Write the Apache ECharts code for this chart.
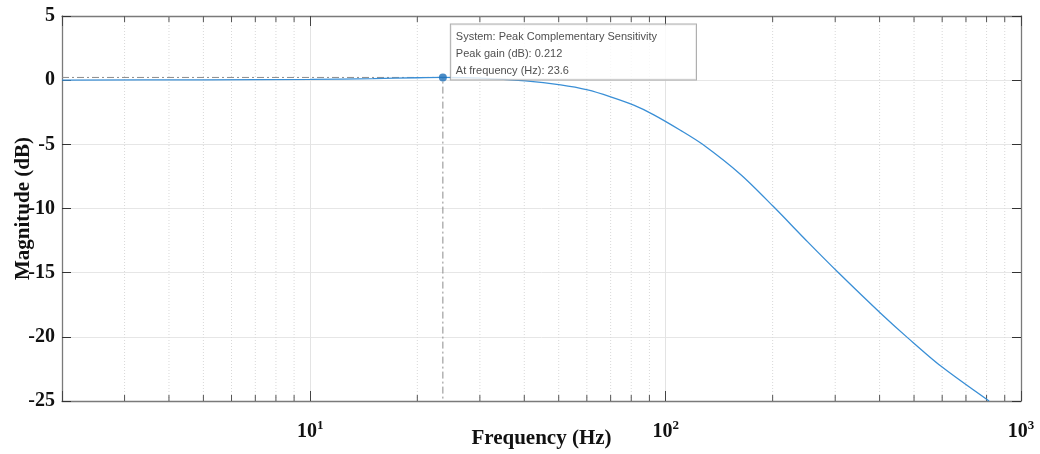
<!DOCTYPE html>
<html><head><meta charset="utf-8">
<script src="https://cdn.jsdelivr.net/npm/echarts@6/dist/echarts.min.js"></script>
<style>html,body{margin:0;padding:0;background:#fff}#c{width:1040px;height:454px}</style>
</head><body><div id="c"></div>
<script>
// ---- data ----
const freqHz = [2, 5, 10, 15, 20, 23.6, 30, 40.3, 50.6, 60.3, 70, 81.3, 92.6, 110, 127, 162.5, 201, 251, 305, 404, 481, 596, 813];
const magDb  = [0.01, 0.03, 0.06, 0.12, 0.19, 0.212, 0.16, -0.06, -0.37, -0.76, -1.3, -1.95, -2.7, -3.9, -5.0, -7.35, -9.85, -12.6, -14.95, -18.2, -20.1, -22.3, -25.0];
const peakFreq = 23.6;
const peakGain = 0.212;
const annotationLines = ['System: Peak Complementary Sensitivity', 'Peak gain (dB): 0.212', 'At frequency (Hz): 23.6'];
const xMin = 2, xMax = 1000;
const yMin = -25, yMax = 5, yStep = 5;
const decadeStarts = [1, 10, 100];
const minorMult = [2, 3, 4, 5, 6, 7, 8, 9];
const xTitle = 'Frequency (Hz)';
const yTitle = 'Magnitude (dB)';

// ---- build ----
const minorFreqs = [];
decadeStarts.forEach(d => minorMult.forEach(m => { const f = d * m; if (f > xMin && f < xMax) minorFreqs.push(f); }));

const serif = '"Liberation Serif","Times New Roman",serif';
const sans = '"Liberation Sans",Arial,sans-serif';
const chart = echarts.init(document.getElementById('c'), null, {renderer: 'canvas'});

const axisLineStyle = {color: '#7a7a7a', width: 1.3};
chart.setOption({
  animation: false,
  backgroundColor: '#fff',
  grid: {left: 62, right: 19, top: 16, bottom: 53, containLabel: false, outerBoundsMode: 'none'},
  xAxis: [{
    type: 'log', logBase: 10, min: xMin, max: xMax,
    name: xTitle, nameLocation: 'middle', nameGap: 27, nameMoveOverlap: false,
    nameTextStyle: {fontFamily: serif, fontWeight: 'bold', fontSize: 21, color: '#111'},
    axisLine: {show: true, onZero: false, lineStyle: axisLineStyle},
    axisTick: {show: true, inside: true, length: 10, lineStyle: {color: '#444'}},
    axisLabel: {
      margin: 18,
      formatter: v => { const e = Math.log10(v); return Math.abs(e - Math.round(e)) < 1e-6 ? '{b|10}{s|' + Math.round(e) + '}' : ''; },
      rich: {
        b: {fontFamily: serif, fontWeight: 'bold', fontSize: 20, color: '#111'},
        s: {fontFamily: serif, fontWeight: 'bold', fontSize: 13, color: '#111', padding: [0, 0, 12, 0]}
      }
    },
    splitLine: {show: true, lineStyle: {color: '#e3e3e3', width: 1}}
  }, {
    type: 'log', logBase: 10, min: xMin, max: xMax, position: 'top',
    axisLine: {show: true, onZero: false, lineStyle: axisLineStyle},
    axisTick: {show: true, inside: true, length: 10, lineStyle: {color: '#444'}},
    axisLabel: {show: false}, splitLine: {show: false}
  }],
  yAxis: [{
    type: 'value', min: yMin, max: yMax, interval: yStep,
    name: yTitle, nameLocation: 'middle', nameGap: 28, nameRotate: 90, nameMoveOverlap: false,
    nameTextStyle: {fontFamily: serif, fontWeight: 'bold', fontSize: 21, color: '#111'},
    axisLine: {show: true, onZero: false, lineStyle: axisLineStyle},
    axisTick: {show: true, inside: true, length: 9, lineStyle: {color: '#333'}},
    axisLabel: {margin: 7, fontFamily: serif, fontWeight: 'bold', fontSize: 20, color: '#111'},
    splitLine: {show: true, lineStyle: {color: '#e6e6e6', width: 1}}
  }, {
    type: 'value', min: yMin, max: yMax, interval: yStep, position: 'right',
    axisLine: {show: true, onZero: false, lineStyle: axisLineStyle},
    axisTick: {show: true, inside: true, length: 9, lineStyle: {color: '#333'}},
    axisLabel: {show: false}, splitLine: {show: false}
  }],
  series: [{
    type: 'custom', xAxisIndex: 0, yAxisIndex: 0, silent: true, z: 1,
    data: minorFreqs.map(f => [f]),
    renderItem: (params, api) => {
      const f = api.value(0);
      const b = api.coord([f, yMin]);
      const t = api.coord([f, yMax]);
      return {type: 'group', children: [
        {type: 'line', shape: {x1: b[0], y1: b[1], x2: t[0], y2: t[1]}, style: {stroke: '#d8d8d8', lineWidth: 1, lineDash: [1, 2]}},
        {type: 'line', shape: {x1: b[0], y1: b[1], x2: b[0], y2: b[1] - 6}, style: {stroke: '#555', lineWidth: 1}},
        {type: 'line', shape: {x1: t[0], y1: t[1], x2: t[0], y2: t[1] + 6}, style: {stroke: '#555', lineWidth: 1}}
      ]};
    }
  }, {
    type: 'line', silent: true, z: 2, symbol: 'none',
    data: [[xMin, peakGain], [peakFreq, peakGain], [peakFreq, yMin]],
    lineStyle: {color: '#8c8c8c', width: 1, type: [7, 3, 2, 3]}
  }, {
    type: 'line', silent: true, z: 3, symbol: 'none', smooth: 0.3,
    data: freqHz.map((f, i) => [f, magDb[i]]),
    lineStyle: {color: '#3a8fd6', width: 1.3}
  }, {
    type: 'scatter', silent: true, z: 4, symbolSize: 8,
    itemStyle: {color: '#1f6fb8'},
    data: [[peakFreq, peakGain]],
    label: {
      show: true, position: [12, -49], align: 'left', verticalAlign: 'top',
      formatter: annotationLines.join('\n'),
      fontFamily: sans, fontSize: 11, lineHeight: 17, color: '#222',
      backgroundColor: '#fff', borderColor: '#9a9a9a', borderWidth: 1,
      padding: [4, 39, 0, 5]
    }
  }]
});
</script>
</body></html>
